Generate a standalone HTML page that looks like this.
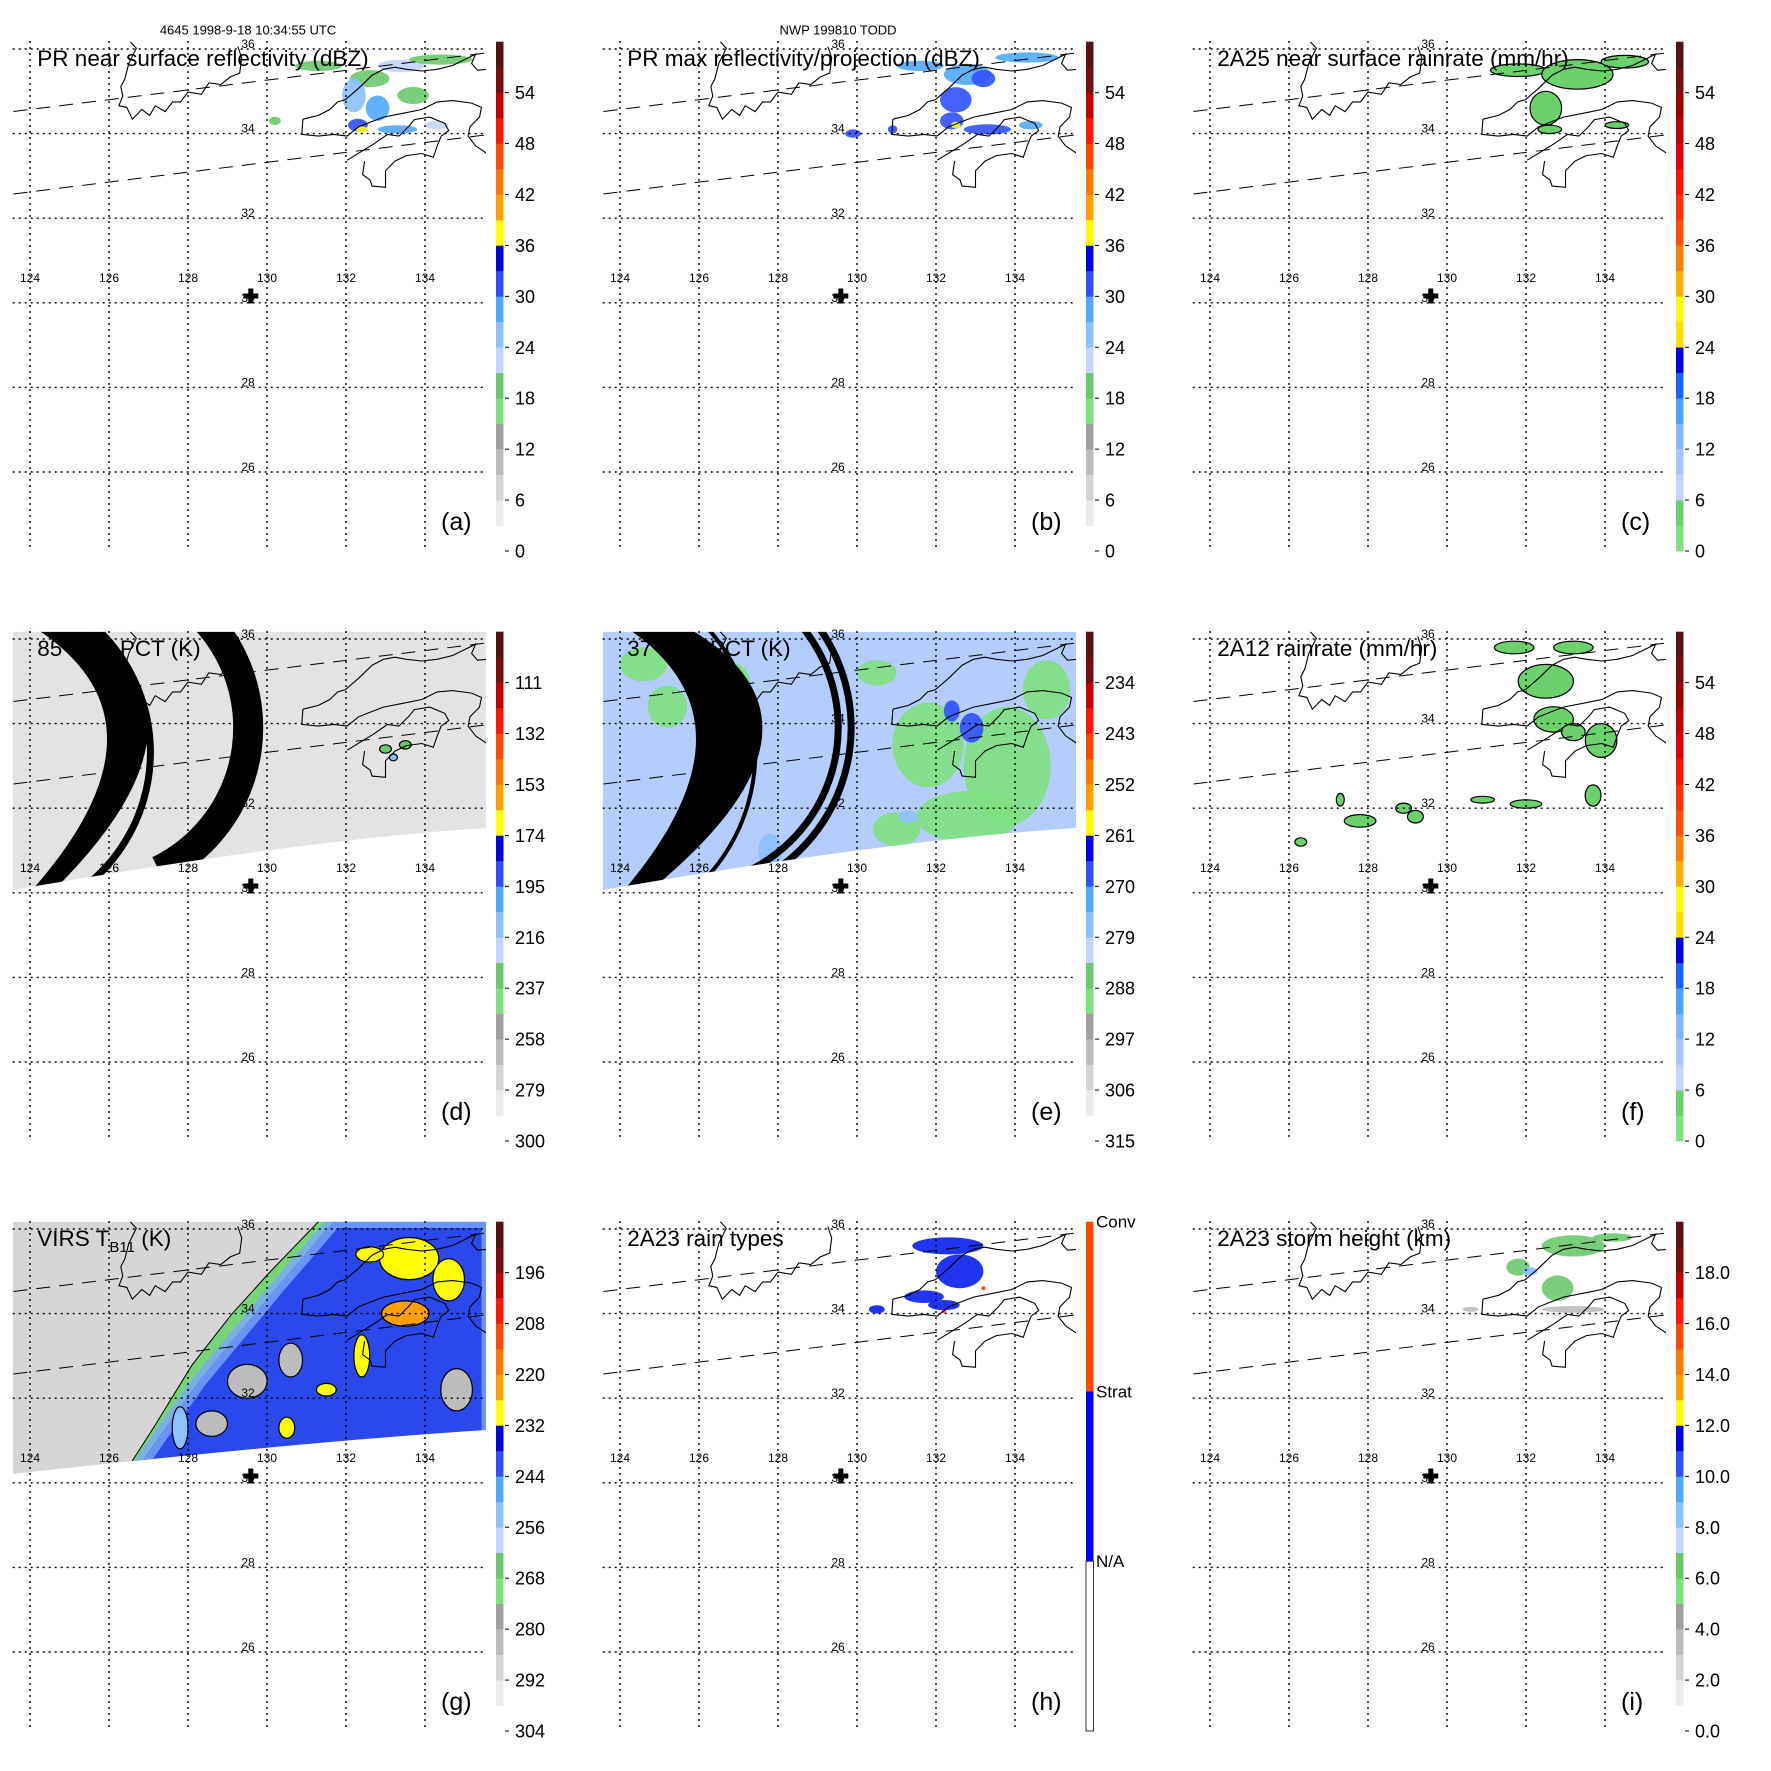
<!DOCTYPE html>
<html><head><meta charset="utf-8"><title>TRMM 9-panel</title>
<style>
html,body{margin:0;padding:0;background:#fff;}
svg{display:block;font-family:"Liberation Sans",Arial,sans-serif;}
</style></head>
<body>
<svg id="fig" xmlns="http://www.w3.org/2000/svg" width="1771" height="1771" viewBox="0 0 1771 1771">
<rect x="0" y="0" width="1771" height="1771" fill="#fff"/>
<text x="248" y="34.6" font-size="13" text-anchor="middle">4645 1998-9-18 10:34:55 UTC</text>
<text x="838" y="34.6" font-size="13" text-anchor="middle">NWP 199810 TODD</text>
</svg>
<script>
// ---------- data ----------
const lonTicks = [124,126,128,130,132,134];
const latTicks = [36,34,32,30,28,26];
const barLabelsA = ["0","6","12","18","24","30","36","42","48","54"];
const barLabelsC = ["0","6","12","18","24","30","36","42","48","54"];
const barLabelsD = ["300","279","258","237","216","195","174","153","132","111"];
const barLabelsE = ["315","306","297","288","279","270","261","252","243","234"];
const barLabelsG = ["304","292","280","268","256","244","232","220","208","196"];
const barLabelsI = ["0.0","2.0","4.0","6.0","8.0","10.0","12.0","14.0","16.0","18.0"];
const barLabelsH = ["N/A","Strat","Conv"];
const titles = ["PR near surface reflectivity (dBZ)","PR max reflectivity/projection (dBZ)","2A25 near surface rainrate (mm/hr)","85 GHz PCT (K)","37 GHz PCT (K)","2A12 rainrate (mm/hr)","VIRS T","2A23 rain types","2A23 storm height (km)"];
const letters = ["(a)","(b)","(c)","(d)","(e)","(f)","(g)","(h)","(i)"];

// Coastlines [lon,lat]
const coastKorea = [[126.54,36.17],[126.69,36.02],[126.50,35.66],[126.40,35.29],[126.30,35.11],[126.35,34.89],[126.25,34.66],[126.45,34.62],[126.59,34.34],[126.83,34.57],[127.03,34.43],[127.17,34.66],[127.42,34.52],[127.61,34.75],[127.81,34.75],[128.00,34.98],[128.34,34.93],[128.53,35.20],[128.83,35.16],[129.07,35.34],[129.31,35.43],[129.36,35.79],[129.26,36.06]];
const coastHonshuN = [[130.91,34.34],[131.30,34.43],[131.59,34.57],[131.79,34.75],[131.98,34.80],[132.32,35.07],[132.66,35.38],[132.95,35.52],[133.24,35.57],[133.53,35.52],[133.92,35.48],[134.31,35.52],[134.70,35.61],[135.09,35.79],[135.28,35.88],[135.18,35.66],[135.33,35.50],[135.57,35.52]];
const coastHonshuS = [[130.91,34.34],[130.88,33.98],[131.30,33.94],[131.69,33.98],[132.03,33.94],[132.32,34.16],[132.61,34.27],[132.95,34.39],[133.44,34.48],[133.92,34.57],[134.31,34.75],[134.70,34.78],[135.18,34.72],[135.43,34.62],[135.38,34.39],[135.14,34.16],[135.09,33.94],[135.28,33.71],[135.57,33.53]];
const coastSouth = [[132.03,33.37],[132.71,33.76],[133.05,33.98],[133.34,33.94],[133.58,34.16],[133.73,34.33],[134.12,34.39],[134.50,34.24],[134.60,34.07],[134.41,33.94],[134.31,33.71],[134.21,33.44],[133.92,33.53],[133.53,33.48],[133.24,33.35],[133.0,33.12],[133.0,32.73],[132.66,32.76],[132.61,32.90],[132.42,33.03],[132.47,33.35]];

// Rain blobs [lon, lat, rxDeg, ryDeg, value]
const blobsA = [[131.3,35.6,0.6,0.12,20],[132.6,35.3,0.5,0.2,19],[133.4,35.6,0.6,0.15,22],[134.4,35.75,0.8,0.12,20],[133.7,34.9,0.4,0.2,19],[132.2,34.9,0.3,0.4,25],[132.8,34.6,0.3,0.3,27],[133.3,34.1,0.5,0.1,27],[134.3,34.2,0.3,0.1,22],[130.2,34.3,0.15,0.1,19],[132.3,34.2,0.25,0.15,31],[132.4,34.1,0.15,0.07,37]];
const blobsB = [[131.6,35.6,0.6,0.12,27],[132.8,35.4,0.6,0.25,28],[134.3,35.8,0.8,0.12,29],[133.2,35.3,0.3,0.2,32],[132.5,34.8,0.4,0.3,30],[133.3,34.1,0.6,0.12,30],[134.4,34.2,0.3,0.1,28],[129.9,34.0,0.2,0.1,31],[130.9,34.1,0.12,0.1,30],[132.4,34.3,0.3,0.2,32],[132.5,34.2,0.12,0.08,37]];
const blobsC = [[131.8,35.5,0.7,0.15,3],[133.3,35.4,0.9,0.35,4],[134.5,35.7,0.6,0.15,3],[132.5,34.6,0.4,0.4,5],[132.6,34.1,0.3,0.1,4],[134.3,34.2,0.3,0.08,3]];
const blobsD = [[133.0,33.4,0.15,0.1,237],[133.5,33.5,0.15,0.1,237],[133.2,33.2,0.1,0.08,216]];
const blobsE = [[124.6,35.4,0.6,0.4,290],[125.2,34.4,0.5,0.5,290],[126.6,35.0,0.7,0.5,290],[130.5,35.2,0.5,0.3,290],[131.8,33.5,0.9,1.0,290],[133.8,33.0,1.1,1.4,290],[134.8,34.8,0.6,0.7,290],[132.8,31.8,1.3,0.6,290],[131.0,31.5,0.6,0.4,290],[132.9,33.9,0.3,0.35,267],[132.4,34.3,0.2,0.25,270],[127.8,31.0,0.3,0.4,276],[131.3,31.8,0.25,0.15,276]];
const blobsF = [[131.7,35.8,0.5,0.15,3],[133.2,35.8,0.5,0.15,3],[132.5,35.0,0.7,0.4,4],[132.7,34.1,0.5,0.3,3],[133.9,33.6,0.4,0.4,3],[133.2,33.8,0.3,0.2,4],[127.8,31.7,0.4,0.15,3],[129.2,31.8,0.2,0.15,3],[128.9,32.0,0.2,0.12,3],[130.9,32.2,0.3,0.08,3],[132.0,32.1,0.4,0.1,3],[133.7,32.3,0.2,0.25,3],[126.3,31.2,0.15,0.1,3],[127.3,32.2,0.1,0.15,3]];
const blobsG = [[129.5,32.4,0.5,0.4,282],[130.6,32.9,0.3,0.4,282],[128.6,31.4,0.4,0.3,282],[134.8,32.2,0.4,0.5,282],[127.8,31.3,0.2,0.5,252],[133.6,35.3,0.75,0.5,228],[134.6,34.8,0.4,0.5,228],[132.6,35.4,0.35,0.18,228],[132.4,33.0,0.2,0.5,228],[131.5,32.2,0.25,0.15,228],[130.5,31.3,0.2,0.25,228],[133.5,34.0,0.6,0.3,222]];
const blobsH = [[132.3,35.6,0.9,0.2,1],[132.6,35.0,0.6,0.4,1],[131.7,34.4,0.5,0.15,1],[132.2,34.2,0.4,0.12,1],[130.5,34.1,0.2,0.1,1],[133.2,34.6,0.05,0.05,2],[132.2,34.05,0.06,0.04,2]];
const blobsI = [[133.2,35.6,0.8,0.25,6.5],[131.8,35.1,0.3,0.2,6.8],[132.8,34.6,0.4,0.3,6.5],[134.2,35.8,0.5,0.1,6.5],[132.1,35.0,0.2,0.1,8.5],[133.2,34.1,0.8,0.08,3],[130.6,34.1,0.2,0.06,3]];
// VIRS regions (lon/lat)
const virsBlue = [[126.46,29.97],[127.33,31.15],[128.30,32.42],[129.28,33.52],[130.25,34.61],[131.71,36.19],[135.61,36.19],[135.61,30.7]];
const virsGreen = [[126.15,29.88],[127.14,31.32],[128.10,32.78],[129.09,33.97],[130.05,34.96],[131.32,36.19],[131.71,36.19],[130.25,34.61],[129.28,33.52],[128.30,32.42],[127.33,31.15],[126.46,29.97]];

// ---------- scales ----------
const X = lon => 30 + (lon-124)*39.5;
const Y = lat => 49 + (36-lat)*42.3;
const BAR_TOP = 41.7, BAR_BOT = 551, BAR_X = 496, BAR_W = 7.5;
const barY = u => BAR_BOT - u*(BAR_BOT-BAR_TOP)/60;
const palA = ["#ffffff","#ebebeb","#d4d4d4","#bcbcbc","#a0a0a0","#7ee07e","#6cc86c","#c4d4ff","#8cc0ff","#50a8ff","#3050ff","#0000e0","#ffff00","#ffa000","#ff7800","#ff4800","#ff1800","#c00000","#7a0c0c","#541414"];
const palC = ["#80e080","#6cd06c","#c4d4ff","#a8c8ff","#80b8ff","#50a0ff","#2060ff","#0000e0","#ffe000","#ffff00","#ffb000","#ff8000","#ff5000","#ff3000","#ff1000","#e00000","#c00000","#a00000","#701010","#501414"];
const colorOf = (pal,u) => pal[Math.max(0,Math.min(19,Math.floor(u/3)))];

const NS = "http://www.w3.org/2000/svg";
const svg = document.getElementById('fig');
function mk(tag, attrs, parent){ const e=document.createElementNS(NS,tag); for(const k in attrs) e.setAttribute(k,attrs[k]); parent.appendChild(e); return e; }
const pts = arr => arr.map(p=>X(p[0]).toFixed(1)+","+Y(p[1]).toFixed(1)).join(" ");
function arcPath(cx,cy,r,a0,a1){
  const t0=a0*Math.PI/180, t1=a1*Math.PI/180;
  return `M${(cx+r*Math.cos(t0)).toFixed(1)},${(cy+r*Math.sin(t0)).toFixed(1)} A${r},${r} 0 0 1 ${(cx+r*Math.cos(t1)).toFixed(1)},${(cy+r*Math.sin(t1)).toFixed(1)}`;
}

const defs = mk('defs',{},svg);
const cpMap = mk('clipPath',{id:'mapclip'},defs);
mk('rect',{x:12.7,y:41.7,width:473.3,height:510},cpMap);
const cpSw = mk('clipPath',{id:'swclip'},defs);
mk('path',{d:'M12.7,41.7 L486,41.7 L486,238 Q300,250 12.7,300 Z'},cpSw);
const cpSwG = mk('clipPath',{id:'swclipg'},defs);
mk('path',{d:'M12.7,41.7 L486,41.7 L486,250 Q300,262 12.7,294 Z'},cpSwG);

const panels = [
 {pal:palA, u:v=>v, blobs:blobsA, labels:barLabelsA, outline:false},
 {pal:palA, u:v=>v, blobs:blobsB, labels:barLabelsA, outline:false},
 {pal:palC, u:v=>v, blobs:blobsC, labels:barLabelsC, outline:true},
 {pal:palA, u:v=>(300-v)/3.5, blobs:blobsD, labels:barLabelsD, outline:true, bg:'#e3e3e3', clip:'swclip'},
 {pal:palA, u:v=>(315-v)/1.5, blobs:blobsE, labels:barLabelsE, outline:false, bg:'#b4cdfd', clip:'swclip'},
 {pal:palC, u:v=>v, blobs:blobsF, labels:barLabelsC, outline:true},
 {pal:palA, u:v=>(304-v)/2, blobs:blobsG, labels:barLabelsG, outline:true, bg:'#d6d6d6', clip:'swclipg'},
 {pal:null, blobs:blobsH, labels:barLabelsH, outline:false},
 {pal:palA, u:v=>v*3, blobs:blobsI, labels:barLabelsI, outline:false}
];

panels.forEach((P,i)=>{
  const col=i%3, row=Math.floor(i/3);
  const g = mk('g',{transform:`translate(${col*590},${row*590})`},svg);
  
  
  const mapG = mk('g',{'clip-path':'url(#mapclip)'},g);
  
  
  let dataG = mapG;
  if(P.bg){
    dataG = mk('g',{'clip-path':`url(#${P.clip})`},mapG);
    
    
    const bgr = mk('rect',{x:12.7,y:41.7,width:473.3,height:300,fill:P.bg},dataG);
    
    
  }
  if(i===6){
    const gp = mk('polygon',{points:pts(virsGreen),fill:'#78d478',stroke:'#000','stroke-width':1},dataG);
    
    
    const bp = mk('polygon',{points:pts(virsBlue),fill:'#2a48ec'},dataG);
    
    
    const lb = mk('polygon',{points:pts(virsBlue),fill:'none',stroke:'#7aa8ff','stroke-width':14,opacity:0.8},dataG);
    
    
  }
  P.blobs.forEach(b=>{
    let fill;
    if(P.pal) fill = colorOf(P.pal, P.u(b[4]));
    else fill = b[4]===2 ? '#ff4000' : '#0a1ef0';
    const e = mk('ellipse',{cx:X(b[0]).toFixed(1),cy:Y(b[1]).toFixed(1),rx:(b[2]*39.5).toFixed(1),ry:(b[3]*42.3).toFixed(1),fill:fill,stroke:P.outline?'#000':'none','stroke-width':1.2,opacity:P.outline?1:0.9},dataG);
    
    
  });
  if(i===3 || i===4){
    const cg = mk('g',{fill:'none',stroke:'#000'},dataG);
    
    
    const band = i===3 ? 'M35,38 Q180,131.5 33,299 L55,299 Q221.5,133.5 90,38 Z' : 'M37,38 Q176,131.5 35,299 L62,299 Q263,133.5 98,38 Z';
    const c1 = mk('path',{d:band,fill:'#000',stroke:'none'},cg);
    
    
    const c1b = mk('path',{d:arcPath(-19.6,162.4,i===3?170:185,-75,72),'stroke-width':i===3?7:4},cg);
    
    
    const c2 = mk('path',{d:arcPath(89.2,137.7,159,-85,64),'stroke-width':i===3?30:7},cg);
    
    
    if(i===4){
      const c3 = mk('path',{d:arcPath(89.2,137.7,172,-85,64),'stroke-width':7},cg);
      
      
    }
  }
  const cst = mk('g',{fill:'none',stroke:'#000','stroke-width':1.1},mapG);
  
  
  [coastKorea,coastHonshuN,coastHonshuS,coastSouth].forEach(c=>{
    const pl = mk('polyline',{points:pts(c)},cst);
    
    
  });
  const s1 = mk('line',{x1:13.5,y1:111.5,x2:488.5,y2:52.7,stroke:'#000','stroke-width':1,'stroke-dasharray':'14,9'},g);
  
  
  const s2 = mk('line',{x1:13.5,y1:194,x2:488.5,y2:134.6,stroke:'#000','stroke-width':1,'stroke-dasharray':'14,9'},g);
  
  
  latTicks.forEach(lat=>{
    const l = mk('line',{x1:12.7,x2:486,y1:Y(lat),y2:Y(lat),stroke:'#000','stroke-width':1.4,'stroke-dasharray':'2,4'},g);
    
    
    const t = mk('text',{x:248,y:Y(lat)-1,'font-size':12,'text-anchor':'middle'},g);
    
    
    t.textContent = lat;
  });
  lonTicks.forEach(lon=>{
    const l = mk('line',{x1:X(lon),x2:X(lon),y1:41,y2:551,stroke:'#000','stroke-width':1.4,'stroke-dasharray':'2,4'},g);
    
    
    const t = mk('text',{x:X(lon),y:282,'font-size':12,'text-anchor':'middle'},g);
    
    
    t.textContent = lon;
  });
  const cr = mk('path',{d:'M243.3,293.5h15v5h-15z M248.3,288.5h5v15h-5z',fill:'#000'},g);
  
  
  const tt = mk('text',{x:37.3,y:66,'font-size':22.5},g);
  
  
  tt.textContent = titles[i];
  if(i===6){
    const sub = mk('tspan',{'font-size':15,dy:6},tt);
    sub.textContent = 'B11';
    const rest = mk('tspan',{dy:-6},tt);
    rest.textContent = ' (K)';
  }
  const lt = mk('text',{x:441,y:530,'font-size':25},g);
  
  
  lt.textContent = letters[i];
  const cb = mk('g',{},g);
  
  
  if(P.pal){
    P.pal.forEach((c,k)=>{
      const r = mk('rect',{x:BAR_X,y:barY(3*k+3),width:BAR_W,height:(barY(3*k)-barY(3*k+3))+0.3,fill:c},cb);
      
      
    });
    P.labels.forEach((s,k)=>{
      const tk = mk('line',{x1:505,x2:509,y1:barY(6*k),y2:barY(6*k),stroke:'#000','stroke-width':1},cb);
      
      
      const t = mk('text',{x:515,y:barY(6*k)+6.5,'font-size':18},cb);
      
      
      t.textContent = s;
    });
  } else {
    const hc = ['#ffffff','#0000f0','#ff4800'];
    hc.forEach((c,k)=>{
      const r = mk('rect',{x:BAR_X,y:barY(20*k+20),width:BAR_W,height:barY(20*k)-barY(20*k+20),fill:c,stroke:k===0?'#000':'none','stroke-width':0.8},cb);
      
      
    });
    P.labels.forEach((s,k)=>{
      const t = mk('text',{x:506,y:barY(20*k+20)+6,'font-size':17},cb);
      
      
      t.textContent = s;
    });
  }
});
</script>
</body></html>
